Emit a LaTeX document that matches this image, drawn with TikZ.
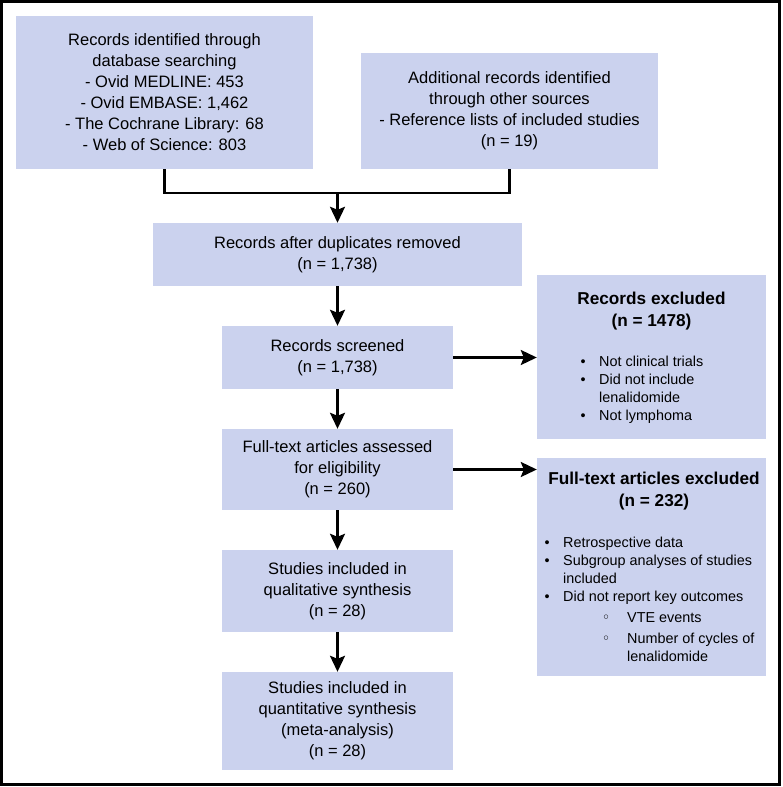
\documentclass[tikz,border=0pt]{standalone}
\usepackage{fontspec}
\setmainfont{Liberation Sans}
\newfontfamily\dvfont{DejaVu Sans}
\usetikzlibrary{arrows.meta}
\definecolor{boxfill}{RGB}{203,210,238}
\begin{document}
\begin{tikzpicture}[x=1pt,y=-1pt,
  box/.style={fill=boxfill, draw=none, inner sep=0pt, align=center, font=\fontsize{16.5}{21}\selectfont},
  conn/.style={line width=2.5pt, black},
  arr/.style={conn, -{Stealth[length=16pt,width=15pt,inset=3pt]}},
  head/.style={inner sep=0pt, align=center, font=\fontsize{17.2}{21.7}\selectfont\bfseries},
  list/.style={inner sep=0pt, align=left, anchor=west, font=\fontsize{14.4}{18}\selectfont}]
\useasboundingbox (0,0) rectangle (782,787);
\draw[line width=3pt] (1.5,1.5) rectangle (779.5,784.5);

\node[box, minimum width=297pt, minimum height=153pt] (b1) at (164.5,92.5)
  {Records identified through\\database searching\\- Ovid MEDLINE: 453\\- Ovid EMBASE: 1,462\\- The Cochrane Library: 68\\- Web of Science: 803};
\node[box, minimum width=297pt, minimum height=116pt] (b2) at (509.5,111)
  {Additional records identified\\through other sources\\- Reference lists of included studies\\(n = 19)};
\node[box, minimum width=369pt, minimum height=63pt] (b3) at (337.5,254.5)
  {Records after duplicates removed\\(n = 1,738)};
\node[box, minimum width=231pt, minimum height=63pt] (b4) at (337.5,357.5)
  {Records screened\\(n = 1,738)};
\node[box, minimum width=231pt, minimum height=81pt] (b5) at (337.5,469.5)
  {Full-text articles assessed\\for eligibility\\(n = 260)};
\node[box, minimum width=231pt, minimum height=82pt] (b6) at (337.5,591)
  {Studies included in\\qualitative synthesis\\(n = 28)};
\node[box, minimum width=231pt, minimum height=98pt] (b7) at (337.5,721)
  {Studies included in\\quantitative synthesis\\(meta-analysis)\\(n = 28)};

\node[box, minimum width=229pt, minimum height=164pt] (e1) at (651.5,357) {};
\node[box, minimum width=229pt, minimum height=218pt] (e2) at (651.5,567) {};

\node[head] (h1) at (651.5,311) {Records excluded\\(n = 1478)};
\node[head] (h2) at (654,491) {Full-text articles excluded\\(n = 232)};

\node[list] (l1) at (580.5,389.5)
  {\makebox[18.5pt][l]{•}Not clinical trials\\
   \makebox[18.5pt][l]{•}Did not include\\
   \hspace*{18.5pt}lenalidomide\\
   \makebox[18.5pt][l]{•}Not lymphoma};
\node[list] (l2) at (544.5,599.5)
  {\makebox[18.5pt][l]{•}Retrospective data\\
   \makebox[18.5pt][l]{•}Subgroup analyses of studies\\
   \hspace*{18.5pt}included\\
   \makebox[18.5pt][l]{•}Did not report key outcomes\\[3pt]
   \hspace*{57.25pt}\makebox[25.25pt][l]{\dvfont ◦}VTE events\\[3pt]
   \hspace*{57.25pt}\makebox[25.25pt][l]{\dvfont ◦}Number of cycles of\\
   \hspace*{82.5pt}lenalidomide};

\coordinate (j) at (337.5,193);
\draw[conn] (b1.south) |- (j) -| (b2.south);
\draw[arr] (j) -- (b3.north);
\draw[arr] (b3) -- (b4);
\draw[arr] (b4) -- (b5);
\draw[arr] (b5) -- (b6);
\draw[arr] (b6) -- (b7);
\draw[arr] (b4.east) -- (b4.east -| e1.west);
\draw[arr] (b5.east) -- (b5.east -| e2.west);
\end{tikzpicture}
\end{document}
